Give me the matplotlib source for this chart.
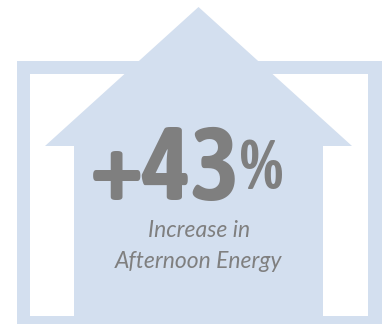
import matplotlib
matplotlib.use("Agg")
import matplotlib.pyplot as plt
from matplotlib import font_manager
from matplotlib.font_manager import FontProperties
from matplotlib.patches import Rectangle, Polygon

BLUE = "#D3DFEF"
GRAY = "#7F7F7F"

VALUE = 43
VALUE_LABEL = f"+{VALUE}"
UNIT_LABEL = "%"
CAPTION_LINES = ["Increase in", "Afternoon Energy"]

# narrow bold faces close to Myriad Bold Condensed, best first
BIG_FILES = ["AsapCondensed-Bold.ttf", "PTSans-NarrowBold.ttf", "PT_Sans-Narrow-Web-Bold.ttf",
             "OpenSansCondensed-Bold.ttf", "RobotoCondensed-Bold.ttf",
             "NotoSans-CondensedBold.ttf", "DejaVuSansCondensed-Bold.ttf"]
CAPTION_FAMILY = ["Lato", "PT Sans", "Noto Sans"]


def find_file(files):
    paths = {f.fname.rsplit("/", 1)[-1]: f.fname for f in font_manager.fontManager.ttflist}
    for name in files:
        if name in paths:
            return FontProperties(fname=paths[name])
    return FontProperties(family="Roboto", weight="bold")


def caption_font():
    fams = {f.name for f in font_manager.fontManager.ttflist}
    for fam in CAPTION_FAMILY:
        if fam in fams:
            return fam
    return "DejaVu Sans"


big_fp = find_file(BIG_FILES)
cap_family = caption_font()

W, H = 382, 324
fig = plt.figure(figsize=(W / 100, H / 100), dpi=100)
ax = fig.add_axes([0, 0, 1, 1])
ax.set_xlim(0, W)
ax.set_ylim(H, 0)
ax.axis("off")

# outer frame
ax.add_patch(Rectangle((17, 61), 380, 280, facecolor=BLUE, edgecolor="none"))
ax.add_patch(Rectangle((30, 74), 338, 242, facecolor="white", edgecolor="none"))

# up arrow / house shape
arrow = [(198.5, 7), (352, 146), (323, 146), (323, 316),
         (74, 316), (74, 146), (45, 146)]
ax.add_patch(Polygon(arrow, closed=True, facecolor=BLUE, edgecolor="none"))

p1 = big_fp.copy()
p1.set_size(74)
p2 = big_fp.copy()
p2.set_size(50)
ax.text(240, 200, VALUE_LABEL, ha="right", va="baseline", fontproperties=p1, color=GRAY)
ax.text(240, 189, UNIT_LABEL, ha="left", va="baseline", fontproperties=p2, color=GRAY)

for i, line in enumerate(CAPTION_LINES):
    ax.text(199, 237 + i * 31, line, ha="center", va="baseline", fontsize=16.5,
            style="italic", weight="normal", family=cap_family, color=GRAY)

fig.savefig("out.png", dpi=100)
